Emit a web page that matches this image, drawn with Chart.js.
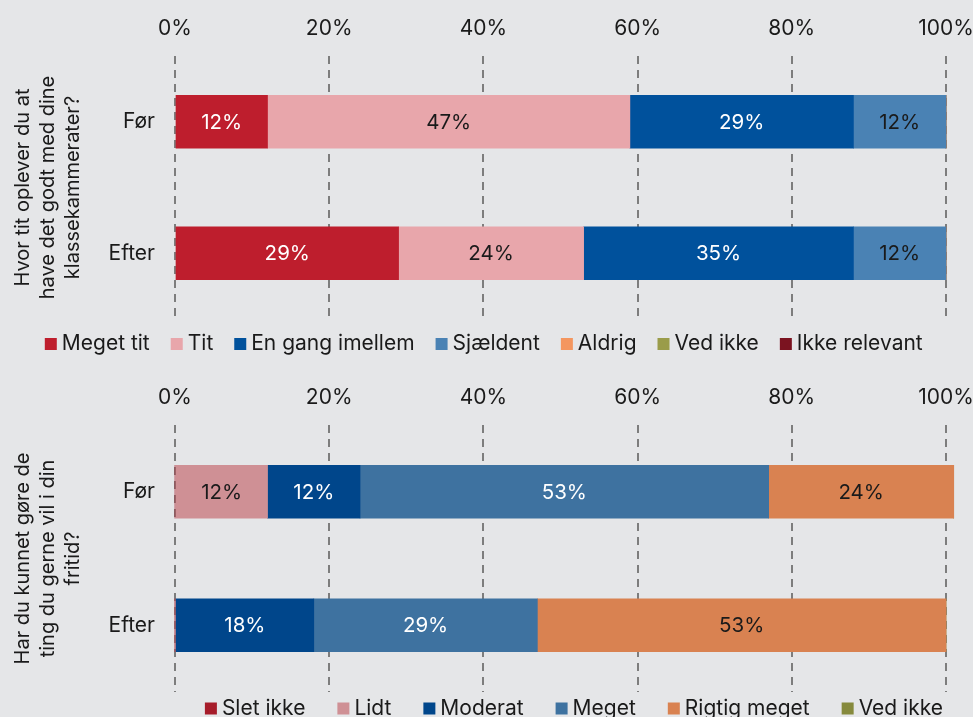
<!DOCTYPE html>
<html>
<head>
<meta charset="utf-8">
<script src="https://cdn.jsdelivr.net/npm/chart.js@4.4.1/dist/chart.umd.min.js"></script>
<style>
  html, body { margin: 0; padding: 0; background: #e5e6e8; overflow: hidden; }
  canvas { display: block; }
</style>
</head>
<body>
<canvas id="chartTop" width="973" height="370"></canvas>
<canvas id="chartBottom" width="973" height="347"></canvas>
<script>
// shared
const rowLabels = ['Før', 'Efter'];
const tickStep = 20;

// top chart: Hvor tit oplever du at have det godt ...
const topTitle = ['Hvor tit oplever du at', 'have det godt med dine', 'klassekammerater?'];
const topSeries = ['Meget tit', 'Tit', 'En gang imellem', 'Sjældent', 'Aldrig', 'Ved ikke', 'Ikke relevant'];
const topMegetTit = [12, 29];
const topTit = [47, 24];
const topEnGang = [29, 35];
const topSjaeldent = [12, 12];
const topAldrig = [0, 0];
const topVedIkke = [0, 0];
const topIkkeRelevant = [0, 0];
const topColors = ['#be1e2d', '#e8a6ab', '#00519c', '#4a82b4', '#f4965f', '#9a9c4a', '#7b1320'];
const topLabelColors = ['#fff', '#1a1a1a', '#fff', '#1a1a1a', '#1a1a1a', '#1a1a1a', '#fff'];

// bottom chart: Har du kunnet gøre de ting ...
const botTitle = ['Har du kunnet gøre de', 'ting du gerne vil i din', 'fritid?'];
const botSeries = ['Slet ikke', 'Lidt', 'Moderat', 'Meget', 'Rigtig meget', 'Ved ikke'];
const botSletIkke = [0, 0];
const botLidt = [12, 0];
const botModerat = [12, 18];
const botMeget = [53, 29];
const botRigtigMeget = [24, 53];
const botVedIkke = [0, 0];
const botColors = ['#a61c2a', '#cf9095', '#00468b', '#3e72a0', '#d98251', '#868a3d'];
const botLabelColors = ['#fff', '#1a1a1a', '#fff', '#fff', '#1a1a1a', '#1a1a1a'];

Chart.defaults.font.family = 'Inter';
Chart.defaults.font.size = 21;
Chart.defaults.color = '#1a1a1a';

// draws the % value in the middle of every segment
const barLabels = {
    id: 'barLabels',
    afterDatasetsDraw(chart) {
        const ctx = chart.ctx;
        ctx.save();
        ctx.font = '20.5px Inter';
        ctx.textAlign = 'center';
        ctx.textBaseline = 'middle';
        chart.data.datasets.forEach((ds, i) => {
            chart.getDatasetMeta(i).data.forEach((bar, j) => {
                const v = ds.data[j];
                if (!v) return;
                const c = bar.getCenterPoint();
                ctx.fillStyle = ds.labelColor;
                ctx.fillText(v + '%', c.x, c.y + 1);
            });
        });
        ctx.restore();
    }
};

// fixes legend box height and where its row sits
function legendPlacer(boxHeight, top, extraRight) {
    return {
        id: 'legendPlacer',
        beforeLayout(chart) {
            const lg = chart.legend;
            if (lg && !lg._fixed) {
                const fit = lg.fit;
                lg.fit = function () { fit.call(this); this.height = boxHeight; };
                lg._fixed = true;
            }
        },
        afterLayout(chart) {
            const lg = chart.legend;
            lg.top = top;
            lg.bottom = chart.height + 40;
            lg.right += extraRight;
        }
    };
}

function makeChart(id, title, names, values, colors, labelColors, opts) {
    const datasets = names.map((name, i) => ({
        label: name,
        data: values[i],
        backgroundColor: colors[i],
        labelColor: labelColors[i],
        borderWidth: 0,
        barThickness: 53,
        clip: false
    }));
    return new Chart(document.getElementById(id), {
        type: 'bar',
        data: { labels: rowLabels, datasets: datasets },
        options: {
            indexAxis: 'y',
            responsive: false,
            animation: false,
            layout: { padding: 0 },
            scales: {
                x: {
                    position: 'top',
                    stacked: true,
                    min: 0,
                    max: 100,
                    ticks: {
                        stepSize: tickStep,
                        padding: 15,
                        callback: v => v + '%'
                    },
                    grid: { color: '#7d7d7d', lineWidth: 2, drawTicks: false },
                    border: { display: false, dash: [8, 6] },
                    afterFit(scale) {
                        scale.height = opts.axisHeight;
                        scale.paddingRight = 27;
                    }
                },
                y: {
                    stacked: true,
                    grid: { display: false, drawTicks: false },
                    border: { display: false },
                    ticks: { padding: 20 },
                    title: {
                        display: true,
                        text: title,
                        font: { size: 20, lineHeight: 1.25 },
                        padding: { top: 10, bottom: 0 }
                    },
                    afterFit(scale) {
                        scale.width = 175;
                        scale.paddingTop = 0;
                        scale.paddingBottom = 0;
                    }
                }
            },
            plugins: {
                legend: {
                    position: 'bottom',
                    align: opts.legendAlign,
                    labels: {
                        usePointStyle: true,
                        pointStyle: 'rect',
                        boxWidth: 1,
                        boxHeight: 12,
                        padding: opts.legendPadding,
                        color: '#1a1a1a',
                        font: { size: 21 }
                    }
                },
                tooltip: { enabled: false }
            }
        },
        plugins: [barLabels, legendPlacer(opts.legendHeight, opts.legendTop, opts.legendShift)]
    });
}

makeChart('chartTop', topTitle, topSeries,
    [topMegetTit, topTit, topEnGang, topSjaeldent, topAldrig, topVedIkke, topIkkeRelevant],
    topColors, topLabelColors,
    { axisHeight: 56, legendAlign: 'center', legendPadding: 26.5, legendHeight: 51, legendTop: 307, legendShift: 0 });

makeChart('chartBottom', botTitle, botSeries,
    [botSletIkke, botLidt, botModerat, botMeget, botRigtigMeget, botVedIkke],
    botColors, botLabelColors,
    { axisHeight: 55, legendAlign: 'end', legendPadding: 37.5, legendHeight: 25, legendTop: 290.5, legendShift: 7.5 });
</script>
</body>
</html>
